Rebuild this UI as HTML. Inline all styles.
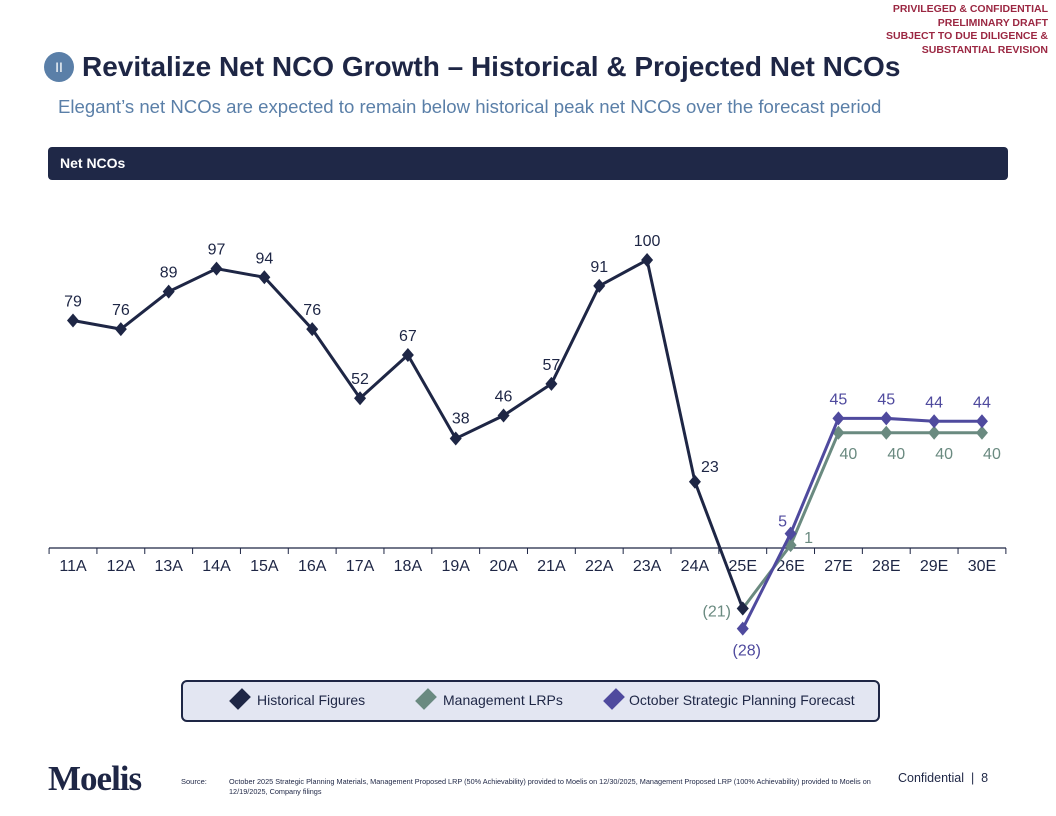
<!DOCTYPE html>
<html><head><meta charset="utf-8"><style>
body{margin:0;width:1056px;height:816px;position:relative;background:#fff;font-family:"Liberation Sans",sans-serif;overflow:hidden}
.abs{position:absolute}
</style></head><body>
<div class="abs" style="right:8px;top:3px;text-align:right;color:#9b2742;font-weight:bold;font-size:10.5px;line-height:13.5px">PRIVILEGED &amp; CONFIDENTIAL<br>PRELIMINARY DRAFT<br>SUBJECT TO DUE DILIGENCE &amp;<br>SUBSTANTIAL REVISION</div>
<div class="abs" style="left:44px;top:52px;width:30px;height:30px;border-radius:50%;background:#5a7fa8;color:#fff;font-size:14px;text-align:center;line-height:30px">II</div>
<div class="abs" style="left:82px;top:51px;font-size:28px;font-weight:bold;color:#1e2645">Revitalize Net NCO Growth – Historical &amp; Projected Net NCOs</div>
<div class="abs" style="left:58px;top:96px;font-size:18.6px;color:#5a7fa8">Elegant’s net NCOs are expected to remain below historical peak net NCOs over the forecast period</div>
<div class="abs" style="left:48px;top:147px;width:960px;height:33px;background:#1f2847;border-radius:4px;color:#fff;font-weight:bold;font-size:14px;line-height:33px;box-sizing:border-box;padding-left:12px">Net NCOs</div>
<svg class="abs" style="left:0;top:0" width="1056" height="816" id="chart"></svg>
<div class="abs" style="left:181px;top:680px;width:695px;height:38px;background:#e3e6f2;border:2px solid #1e2645;border-radius:6px;font-size:14px;color:#1e2645">
 <div class="abs" style="left:50px;top:10px"><span style="position:absolute;left:0;top:0;width:14px;height:14px;background:#1e2645;transform:rotate(45deg) scale(0.9,1.3)"></span><span style="position:absolute;left:24px;top:0;white-space:nowrap">Historical Figures</span></div>
 <div class="abs" style="left:236px;top:10px"><span style="position:absolute;left:0;top:0;width:14px;height:14px;background:#6a8a80;transform:rotate(45deg) scale(0.9,1.3)"></span><span style="position:absolute;left:24px;top:0;white-space:nowrap">Management LRPs</span></div>
 <div class="abs" style="left:424px;top:10px"><span style="position:absolute;left:0;top:0;width:14px;height:14px;background:#4f4a9e;transform:rotate(45deg) scale(0.9,1.3)"></span><span style="position:absolute;left:22px;top:0;white-space:nowrap">October Strategic Planning Forecast</span></div>
</div>
<div class="abs" style="left:48px;top:759px;font-family:'Liberation Serif',serif;font-weight:bold;font-size:35px;color:#1e2645;letter-spacing:-1px">Moelis</div>
<div class="abs" style="left:181px;top:777px;font-size:7.5px;color:#1e2645">Source:</div>
<div class="abs" style="left:229px;top:777px;width:660px;font-size:7.3px;line-height:10px;color:#1e2645">October 2025 Strategic Planning Materials, Management Proposed LRP (50% Achievability) provided to Moelis on 12/30/2025, Management Proposed LRP (100% Achievability) provided to Moelis on 12/19/2025, Company filings</div>
<div class="abs" style="left:898px;top:771px;font-size:12.5px;color:#1e2645">Confidential &nbsp;|&nbsp; 8</div>
<script>
const categories=["11A","12A","13A","14A","15A","16A","17A","18A","19A","20A","21A","22A","23A","24A","25E","26E","27E","28E","29E","30E"];
const historical=[79,76,89,97,94,76,52,67,38,46,57,91,100,23,-21];
const management=[null,null,null,null,null,null,null,null,null,null,null,null,null,null,-21,1,40,40,40,40];
const october=[null,null,null,null,null,null,null,null,null,null,null,null,null,null,-28,5,45,45,44,44];
const svg=document.getElementById('chart');
const NS='http://www.w3.org/2000/svg';
const x0=73,step=47.84,yZero=548,ppu=2.88;
const X=i=>x0+i*step, Y=v=>yZero-v*ppu;
function mk(t,a){const e=document.createElementNS(NS,t);for(const k in a)e.setAttribute(k,a[k]);svg.appendChild(e);return e;}
const fmt=v=>v<0?'('+(-v)+')':String(v);
const ax=mk('line',{x1:49,x2:1006,y1:yZero,y2:yZero,stroke:'#1e2645','stroke-width':1.3});


for(let i=0;i<=categories.length;i++){const tx=X(i)-step/2;
 const t=mk('line',{x1:tx,x2:tx,y1:yZero,y2:yZero+6,stroke:'#1e2645','stroke-width':1});
 
 }
categories.forEach((c,i)=>{const t=mk('text',{x:X(i),y:yZero+23,'text-anchor':'middle','font-size':16,fill:'#1e2645'});t.textContent=c;
 
 });
function series(arr,color,name,labelFn){
 const pts=[];arr.forEach((v,i)=>{if(v!==null)pts.push([X(i),Y(v),v,i]);});
 const p=mk('polyline',{points:pts.map(p=>p[0]+','+p[1]).join(' '),fill:'none',stroke:color,'stroke-width':3});
 
 
 pts.forEach(([px,py,v,i])=>{
  const d=mk('polygon',{points:`${px},${py-7} ${px+6},${py} ${px},${py+7} ${px-6},${py}`,fill:color});
  
  
  const o=labelFn(i,v);if(!o)return;
  const t=mk('text',{x:px+o[0],y:py+o[1],'text-anchor':'middle','font-size':16,fill:color});t.textContent=fmt(v);
  
  });
}
series(management,'#6a8a80','management',(i,v)=>i===14?[-26,8]:i===15?[18,-2]:[10,26]);
series(october,'#4f4a9e','october',(i,v)=>i===14?[4,27]:i===15?[-8,-7]:[0,-14]);
series(historical,'#1e2645','historical',(i,v)=>i===14?null:i===13?[15,-10]:i===8?[5,-15]:[0,-14]);
</script>
</body></html>
